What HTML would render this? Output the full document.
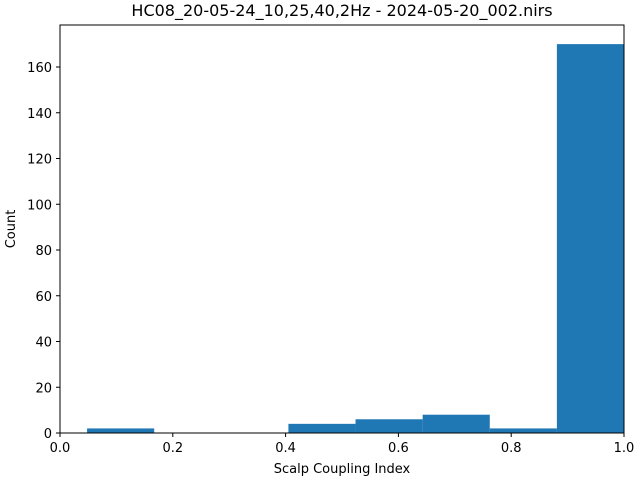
<!DOCTYPE html>
<html><head><meta charset="utf-8"><style>
body{margin:0;background:#fff;}
svg{display:block;font-family:"DejaVu Sans","Liberation Sans",sans-serif;}
</style></head><body>
<svg id="chart" width="640" height="480">
<text x="342" y="16" text-anchor="middle" font-size="16">HC08_20-05-24_10,25,40,2Hz - 2024-05-20_002.nirs</text>
<g id="bars"></g>
<rect x="60" y="25" width="564" height="408" fill="none" stroke="#000" stroke-width="1"/>
<g id="xticks"></g><g id="yticks"></g>
<text x="342" y="473" text-anchor="middle" font-size="13">Scalp Coupling Index</text>
<text transform="translate(15,229) rotate(-90)" text-anchor="middle" font-size="13">Count</text>
</svg>
<script>
const binEdges=[0.048,0.167,0.286,0.405,0.524,0.643,0.762,0.881,1.0];
const counts=[2,0,0,4,6,8,2,170];
const xTickValues=[0,0.2,0.4,0.6,0.8,1.0];
const xTickLabels=["0.0","0.2","0.4","0.6","0.8","1.0"];
const yTickValues=[0,20,40,60,80,100,120,140,160];
const yTickLabels=["0","20","40","60","80","100","120","140","160"];
const NS="http://www.w3.org/2000/svg";
const X=v=>60+v*564;
const Y=v=>433-v*(366/160);
const bars=document.getElementById('bars');
counts.forEach((c,i)=>{
  const r=document.createElementNS(NS,'rect');
  r.setAttribute('x',X(binEdges[i]));
  r.setAttribute('width',X(binEdges[i+1])-X(binEdges[i]));
  r.setAttribute('y',Y(c));
  r.setAttribute('height',Y(0)-Y(c));
  r.setAttribute('fill','#1f77b4');
  
  
  bars.appendChild(r);
});
const xt=document.getElementById('xticks');
xTickValues.forEach((v,i)=>{
  const l=document.createElementNS(NS,'line');
  l.setAttribute('x1',X(v));l.setAttribute('x2',X(v));l.setAttribute('y1',433);l.setAttribute('y2',437);l.setAttribute('stroke','#000');
  
  
  xt.appendChild(l);
  const t=document.createElementNS(NS,'text');
  t.setAttribute('x',X(v));t.setAttribute('y',452);t.setAttribute('text-anchor','middle');t.setAttribute('font-size','13');
  t.textContent=xTickLabels[i];
  
  
  xt.appendChild(t);
});
const yt=document.getElementById('yticks');
yTickValues.forEach((v,i)=>{
  const l=document.createElementNS(NS,'line');
  l.setAttribute('x1',56);l.setAttribute('x2',60);l.setAttribute('y1',Y(v));l.setAttribute('y2',Y(v));l.setAttribute('stroke','#000');
  
  
  yt.appendChild(l);
  const t=document.createElementNS(NS,'text');
  t.setAttribute('x',52);t.setAttribute('y',Y(v)+5);t.setAttribute('text-anchor','end');t.setAttribute('font-size','13');
  t.textContent=yTickLabels[i];
  
  
  yt.appendChild(t);
});
</script>
</body></html>
